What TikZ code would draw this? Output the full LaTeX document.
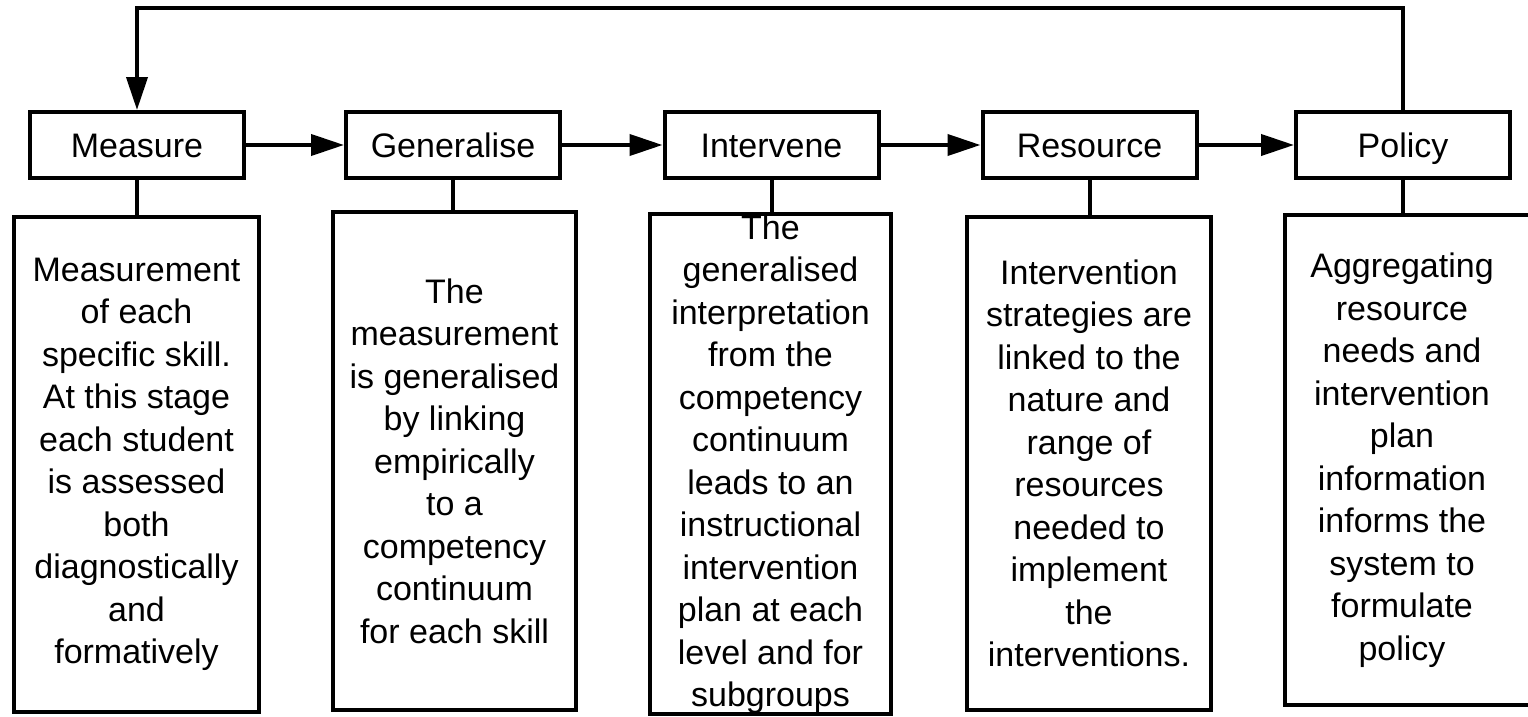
\documentclass[tikz,border=0pt]{standalone}
\usepackage{fontspec}
\setmainfont{Liberation Sans}
\usetikzlibrary{arrows.meta}

\begin{document}
\begin{tikzpicture}[
            x = 1pt, y = -1pt, % one unit per point, y running down
            > = {Triangle[length=33pt, width=21pt]}, % arrow head style
            line width = 4pt, % line style
            font = \fontsize{34}{42.5}\selectfont
        ]

        \tikzstyle{stage}=[
            draw = black,
            rectangle,
            minimum width = 214pt,
            minimum height = 66pt,
            text height = 24.5pt, % same baseline in every stage
            text depth = 0pt,
            inner sep = 0pt
        ]
        \tikzstyle{detail}=[
            draw = black,
            rectangle,
            align = center,
            inner sep = 0pt
        ]

        \useasboundingbox (0,0) rectangle (1528,717);

        % stages
        \node[stage] (measure) at (137,145) {Measure};
        \node[stage] (generalise) at (453,145) {Generalise};
        \node[stage] (intervene) at (771.5,145) {Intervene};
        \node[stage] (resource) at (1089.5,145) {Resource};
        \node[stage] (policy) at (1403,145) {Policy};

        % descriptions
        \node[detail, minimum width=245pt, minimum height=495pt] (measuredesc) at (136.5,464.5)
            {Measurement\\of each\\specific skill.\\At this stage\\each student\\is assessed\\both\\diagnostically\\and\\formatively};
        \node[detail, minimum width=243pt, minimum height=498pt] (generalisedesc) at (454.5,461)
            {The\\measurement\\is generalised\\by linking\\empirically\\to a\\competency\\continuum\\for each skill};
        \node[detail, minimum width=241pt, minimum height=494pt] (intervenedesc) at (770.5,464)
            {The\\generalised\\interpretation\\from the\\competency\\continuum\\leads to an\\instructional\\intervention\\plan at each\\level and for\\subgroups};
        \node[detail, minimum width=244pt, minimum height=493pt] (resourcedesc) at (1089,463.5)
            {Intervention\\strategies are\\linked to the\\nature and\\range of\\resources\\needed to\\implement\\the\\interventions.};
        \node[detail, minimum width=263pt, minimum height=490pt] (policydesc) at (1416.5,460) {};
        \node[align=center, inner sep=0pt] (policytext) at (1402,460)
            {Aggregating\\resource\\needs and\\intervention\\plan\\information\\informs the\\system to\\formulate\\policy};

        % flow between stages
        \path[->] (measure) edge (generalise);
        \path[->] (generalise) edge (intervene);
        \path[->] (intervene) edge (resource);
        \path[->] (resource) edge (policy);

        % feedback to the start
        \coordinate (loop) at (0,8);
        \draw[->] (policy.north) -- (policy.north |- loop) -| (measure.north);

        % stage to description
        \draw (measure.south) -- (measure.south |- measuredesc.north);
        \draw (generalise.south) -- (generalise.south |- generalisedesc.north);
        \draw (intervene.south) -- (intervene.south |- intervenedesc.north);
        \draw (resource.south) -- (resource.south |- resourcedesc.north);
        \draw (policy.south) -- (policy.south |- policydesc.north);

    \end{tikzpicture}
\end{document}
